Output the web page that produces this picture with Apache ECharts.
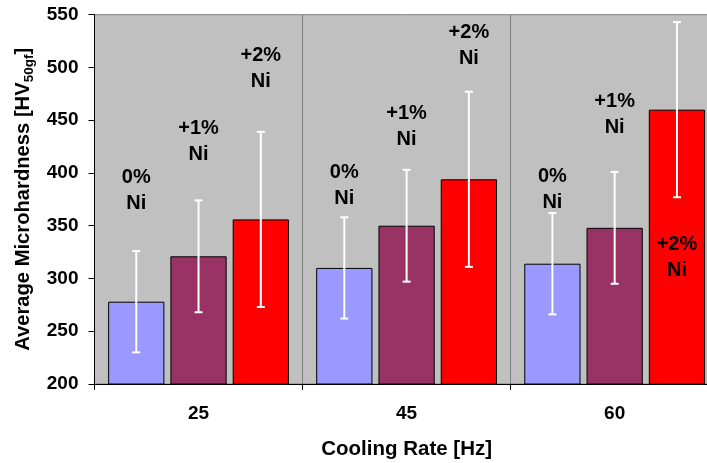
<!DOCTYPE html>
<html>
<head>
<meta charset="utf-8">
<script src="https://cdn.jsdelivr.net/npm/echarts@6/dist/echarts.min.js"></script>
<style>html,body{margin:0;padding:0;background:#fff;overflow:hidden;}#c{width:722px;height:463px;}</style>
</head>
<body>
<div id="c"></div>
<script>
const categories = ['25', '45', '60'];
const seriesNames = ['0%\nNi', '+1%\nNi', '+2%\nNi'];
const ni0 = [278, 310, 314];
const ni1 = [321, 350, 348];
const ni2 = [356, 394, 460];
const err0 = [48, 48, 48];
const err1 = [53, 53, 53];
const err2 = [83, 83, 83];
const labelAt0 = [383, 388, 384];
const labelAt1 = [430, 444, 455];
const labelAt2 = [499, 521, 320];
const yTicks = [200, 250, 300, 350, 400, 450, 500, 550];

const values = [ni0, ni1, ni2];
const errs = [err0, err1, err2];
const labelAts = [labelAt0, labelAt1, labelAt2];
const colors = ['#9999FF', '#993366', '#FF0000'];
const CAT_GAP = 0.131, BAR_GAP = 0.107;
const FONT = '"Liberation Sans", Arial, sans-serif';

const chart = echarts.init(document.getElementById('c'), null, {renderer: 'canvas'});

const series = [];
values.forEach((vals, k) => {
  series.push({
    type: 'bar',
    name: seriesNames[k],
    data: vals,
    barCategoryGap: (CAT_GAP * 100) + '%',
    barGap: (BAR_GAP * 100) + '%',
    itemStyle: {color: colors[k], borderColor: '#000', borderWidth: 1},
    z: 2
  });
});
values.forEach((vals, k) => {
  series.push({
    type: 'custom',
    data: vals.map((v, i) => [i, v, errs[k][i], labelAts[k][i]]),
    encode: {x: 0, y: 1},
    z: 5,
    clip: false,
    renderItem: function (params, api) {
      const i = api.value(0), v = api.value(1), e = api.value(2), la = api.value(3);
      const band = api.size([1, 0])[0];
      const barW = band * (1 - CAT_GAP) / (3 + 2 * BAR_GAP);
      const off = (k - 1) * barW * (1 + BAR_GAP);
      const c = api.coord([i, v]);
      const x = c[0] + off;
      const yTop = api.coord([i, v + e])[1];
      const yBot = api.coord([i, v - e])[1];
      const yLab = api.coord([i, la])[1];
      const st = {stroke: '#FFFFFF', lineWidth: 2};
      const cap = 4;
      return {
        type: 'group',
        children: [
          {type: 'line', shape: {x1: x, y1: yTop, x2: x, y2: yBot}, style: st},
          {type: 'line', shape: {x1: x - cap, y1: yTop, x2: x + cap, y2: yTop}, style: st},
          {type: 'line', shape: {x1: x - cap, y1: yBot, x2: x + cap, y2: yBot}, style: st},
          {type: 'text', x: x, y: yLab, style: {
            text: seriesNames[k], fill: '#000', align: 'center', verticalAlign: 'middle',
            font: 'bold 20px ' + FONT, lineHeight: 26
          }}
        ]
      };
    }
  });
});

chart.setOption({
  animation: false,
  backgroundColor: '#fff',
  grid: {
    left: 94.5, top: 14.7, width: 624.2, height: 369.3,
    outerBoundsMode: 'none', containLabel: false,
    show: true, backgroundColor: '#C0C0C0', borderColor: '#808080', borderWidth: 1
  },
  xAxis: {
    type: 'category',
    data: categories,
    name: 'Cooling Rate [Hz]',
    nameLocation: 'middle',
    nameGap: 55,
    nameTextStyle: {fontFamily: FONT, fontWeight: 'bold', fontSize: 20.5, color: '#000'},
    axisLine: {lineStyle: {color: '#000', width: 1}},
    axisTick: {show: true, length: 6, lineStyle: {color: '#000'}},
    axisLabel: {margin: 20, fontFamily: FONT, fontWeight: 'bold', fontSize: 19, color: '#000'},
    splitLine: {show: true, lineStyle: {color: '#808080', width: 1}}
  },
  yAxis: {
    type: 'value',
    min: 200, max: 550, interval: 50,
    name: '{a|Average Microhardness [HV}{s|50gf}{a|]}',
    nameLocation: 'middle',
    nameGap: 58,
    nameRotate: 90,
    nameTextStyle: {
      fontFamily: FONT, fontWeight: 'bold', fontSize: 20.2, color: '#000',
      rich: {
        a: {fontFamily: FONT, fontWeight: 'bold', fontSize: 20.2, color: '#000', lineHeight: 24},
        s: {fontFamily: FONT, fontWeight: 'bold', fontSize: 13.5, color: '#000', lineHeight: 14, verticalAlign: 'bottom'}
      }
    },
    axisLine: {show: true, lineStyle: {color: '#000', width: 1}},
    axisTick: {show: true, length: 6, lineStyle: {color: '#000'}},
    axisLabel: {
      margin: 16, fontFamily: FONT, fontWeight: 'bold', fontSize: 19, color: '#000',
      formatter: function (v) { return yTicks.indexOf(v) >= 0 ? String(v) : ''; }
    },
    splitLine: {show: false}
  },
  series: series
});
</script>
</body>
</html>
